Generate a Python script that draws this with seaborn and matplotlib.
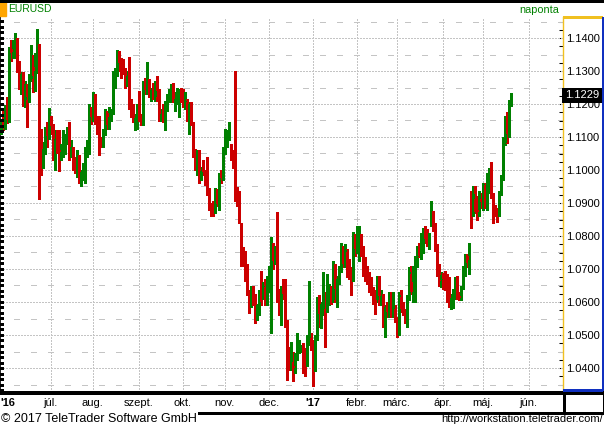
import numpy as np
import pandas as pd
import matplotlib
matplotlib.use("Agg")
import matplotlib.pyplot as plt
from matplotlib.lines import Line2D
from matplotlib.patches import Rectangle
from matplotlib.ticker import MultipleLocator
import seaborn as sns

# EURUSD daily candles (open, high, low, close), one list per month
may_2016 = [
    (1.1115, 1.1150, 1.1110, 1.1136), (1.1136, 1.1180, 1.1120, 1.1131),
]
jun_2016 = [
    (1.1131, 1.1198, 1.1123, 1.1187), (1.1187, 1.1222, 1.1142, 1.1152),
    (1.1152, 1.1374, 1.1145, 1.1366), (1.1366, 1.1395, 1.1330, 1.1355),
    (1.1355, 1.1395, 1.1340, 1.1357), (1.1357, 1.1416, 1.1340, 1.1397),
    (1.1397, 1.1400, 1.1298, 1.1314), (1.1314, 1.1330, 1.1245, 1.1251),
    (1.1251, 1.1298, 1.1230, 1.1290), (1.1290, 1.1298, 1.1193, 1.1212),
    (1.1212, 1.1270, 1.1190, 1.1260), (1.1260, 1.1262, 1.1131, 1.1220),
    (1.1220, 1.1290, 1.1205, 1.1275), (1.1275, 1.1380, 1.1270, 1.1313),
    (1.1313, 1.1347, 1.1235, 1.1285), (1.1285, 1.1355, 1.1240, 1.1299),
    (1.1299, 1.1428, 1.1295, 1.1381), (1.1381, 1.1381, 1.0912, 1.1116),
    (1.1116, 1.1125, 1.0986, 1.1019), (1.1019, 1.1086, 1.1007, 1.1063),
    (1.1063, 1.1130, 1.1050, 1.1124), (1.1124, 1.1145, 1.1070, 1.1103),
]
jul_2016 = [
    (1.1103, 1.1187, 1.1093, 1.1135), (1.1135, 1.1165, 1.1110, 1.1133),
    (1.1133, 1.1140, 1.1029, 1.1072), (1.1072, 1.1120, 1.1000, 1.1094),
    (1.1094, 1.1120, 1.1052, 1.1061), (1.1061, 1.1120, 1.0998, 1.1050),
    (1.1050, 1.1080, 1.1030, 1.1054), (1.1054, 1.1120, 1.1040, 1.1064),
    (1.1064, 1.1110, 1.1050, 1.1094), (1.1094, 1.1130, 1.1080, 1.1124),
    (1.1124, 1.1145, 1.1030, 1.1040), (1.1040, 1.1090, 1.1040, 1.1069),
    (1.1069, 1.1070, 1.1000, 1.1021), (1.1021, 1.1040, 1.0990, 1.1003),
    (1.1003, 1.1060, 1.0980, 1.1025), (1.1025, 1.1045, 1.0960, 1.0976),
    (1.0976, 1.1000, 1.0952, 1.0993), (1.0993, 1.1020, 1.0970, 1.0995),
    (1.0995, 1.1070, 1.0960, 1.1061), (1.1061, 1.1090, 1.1040, 1.1074),
    (1.1074, 1.1200, 1.1050, 1.1174),
]
aug_2016 = [
    (1.1174, 1.1190, 1.1140, 1.1162), (1.1162, 1.1235, 1.1150, 1.1224),
    (1.1224, 1.1230, 1.1140, 1.1150), (1.1150, 1.1165, 1.1110, 1.1128),
    (1.1128, 1.1165, 1.1045, 1.1087), (1.1087, 1.1100, 1.1070, 1.1085),
    (1.1085, 1.1125, 1.1070, 1.1116), (1.1116, 1.1185, 1.1105, 1.1174),
    (1.1174, 1.1180, 1.1125, 1.1135), (1.1135, 1.1190, 1.1125, 1.1160),
    (1.1160, 1.1185, 1.1150, 1.1181), (1.1181, 1.1300, 1.1170, 1.1286),
    (1.1286, 1.1310, 1.1250, 1.1290), (1.1290, 1.1365, 1.1285, 1.1352),
    (1.1352, 1.1360, 1.1300, 1.1324), (1.1324, 1.1340, 1.1280, 1.1318),
    (1.1318, 1.1335, 1.1290, 1.1307), (1.1307, 1.1310, 1.1250, 1.1265),
    (1.1265, 1.1300, 1.1255, 1.1285), (1.1285, 1.1341, 1.1185, 1.1199),
    (1.1199, 1.1215, 1.1160, 1.1192), (1.1192, 1.1200, 1.1145, 1.1148),
    (1.1148, 1.1170, 1.1120, 1.1157),
]
sep_2016 = [
    (1.1157, 1.1200, 1.1125, 1.1195), (1.1195, 1.1240, 1.1150, 1.1154),
    (1.1154, 1.1170, 1.1135, 1.1150), (1.1150, 1.1270, 1.1135, 1.1256),
    (1.1256, 1.1280, 1.1230, 1.1241), (1.1241, 1.1327, 1.1230, 1.1262),
    (1.1262, 1.1275, 1.1220, 1.1233), (1.1233, 1.1250, 1.1210, 1.1241),
    (1.1241, 1.1265, 1.1215, 1.1221), (1.1221, 1.1270, 1.1210, 1.1247),
    (1.1247, 1.1285, 1.1210, 1.1240), (1.1240, 1.1245, 1.1150, 1.1155),
    (1.1155, 1.1185, 1.1150, 1.1170), (1.1170, 1.1200, 1.1145, 1.1152),
    (1.1152, 1.1210, 1.1120, 1.1188), (1.1188, 1.1230, 1.1180, 1.1211),
    (1.1211, 1.1245, 1.1205, 1.1226), (1.1226, 1.1260, 1.1205, 1.1254),
    (1.1254, 1.1265, 1.1205, 1.1212), (1.1212, 1.1235, 1.1180, 1.1216),
    (1.1216, 1.1250, 1.1200, 1.1223), (1.1223, 1.1245, 1.1160, 1.1241),
]
oct_2016 = [
    (1.1241, 1.1250, 1.1205, 1.1210), (1.1210, 1.1245, 1.1190, 1.1205),
    (1.1205, 1.1235, 1.1185, 1.1206), (1.1206, 1.1215, 1.1150, 1.1155),
    (1.1155, 1.1205, 1.1110, 1.1200), (1.1200, 1.1205, 1.1135, 1.1140),
    (1.1140, 1.1145, 1.1040, 1.1055), (1.1055, 1.1065, 1.1000, 1.1005),
    (1.1005, 1.1060, 1.0985, 1.1055), (1.1055, 1.1060, 1.0960, 1.0970),
    (1.0970, 1.1010, 1.0970, 1.0998), (1.0998, 1.1030, 1.0985, 1.0995),
    (1.0995, 1.1000, 1.0955, 1.0973), (1.0973, 1.1040, 1.0925, 1.0929),
    (1.0929, 1.0945, 1.0880, 1.0889), (1.0889, 1.0900, 1.0860, 1.0883),
    (1.0883, 1.0905, 1.0860, 1.0880), (1.0880, 1.0945, 1.0870, 1.0915),
    (1.0915, 1.0942, 1.0890, 1.0897), (1.0897, 1.0990, 1.0880, 1.0985),
    (1.0985, 1.1000, 1.0960, 1.0975),
]
nov_2016 = [
    (1.0975, 1.1070, 1.0970, 1.1056), (1.1056, 1.1125, 1.1050, 1.1097),
    (1.1097, 1.1120, 1.1070, 1.1105), (1.1105, 1.1145, 1.1090, 1.1139),
    (1.1070, 1.1080, 1.1030, 1.1045), (1.1045, 1.1060, 1.1005, 1.1015),
    (1.1015, 1.1300, 1.0905, 1.0915), (1.0915, 1.0950, 1.0890, 1.0893),
    (1.0893, 1.0935, 1.0840, 1.0853), (1.0835, 1.0840, 1.0710, 1.0740),
    (1.0740, 1.0767, 1.0710, 1.0727), (1.0727, 1.0755, 1.0665, 1.0690),
    (1.0690, 1.0715, 1.0620, 1.0630), (1.0630, 1.0635, 1.0568, 1.0600),
    (1.0600, 1.0650, 1.0585, 1.0630), (1.0635, 1.0650, 1.0590, 1.0595),
    (1.0600, 1.0625, 1.0535, 1.0560), (1.0560, 1.0595, 1.0545, 1.0590),
    (1.0570, 1.0635, 1.0560, 1.0600), (1.0625, 1.0695, 1.0590, 1.0620),
    (1.0615, 1.0660, 1.0610, 1.0650), (1.0645, 1.0670, 1.0590, 1.0605),
]
dec_2016 = [
    (1.0600, 1.0680, 1.0590, 1.0665), (1.0650, 1.0710, 1.0630, 1.0690),
    (1.0650, 1.0796, 1.0505, 1.0765), (1.0765, 1.0780, 1.0700, 1.0725),
    (1.0725, 1.0770, 1.0715, 1.0765), (1.0765, 1.0874, 1.0600, 1.0630),
    (1.0630, 1.0640, 1.0560, 1.0570), (1.0540, 1.0650, 1.0530, 1.0635),
    (1.0635, 1.0670, 1.0610, 1.0625), (1.0625, 1.0670, 1.0525, 1.0540),
    (1.0540, 1.0545, 1.0365, 1.0425), (1.0425, 1.0465, 1.0395, 1.0418),
    (1.0418, 1.0480, 1.0395, 1.0450), (1.0415, 1.0450, 1.0360, 1.0400),
    (1.0405, 1.0445, 1.0385, 1.0440), (1.0440, 1.0505, 1.0425, 1.0460),
    (1.0460, 1.0485, 1.0445, 1.0465), (1.0458, 1.0470, 1.0448, 1.0465),
    (1.0465, 1.0475, 1.0385, 1.0445), (1.0445, 1.0460, 1.0375, 1.0410),
    (1.0410, 1.0500, 1.0405, 1.0490), (1.0490, 1.0665, 1.0470, 1.0530),
]
jan_2017 = [
    (1.0490, 1.0505, 1.0455, 1.0470), (1.0470, 1.0485, 1.0345, 1.0415),
    (1.0415, 1.0500, 1.0390, 1.0495), (1.0495, 1.0615, 1.0485, 1.0605),
    (1.0605, 1.0620, 1.0525, 1.0565), (1.0545, 1.0600, 1.0520, 1.0595),
    (1.0575, 1.0690, 1.0560, 1.0630), (1.0580, 1.0630, 1.0465, 1.0575),
    (1.0575, 1.0685, 1.0570, 1.0630), (1.0605, 1.0655, 1.0590, 1.0645),
    (1.0645, 1.0650, 1.0595, 1.0605), (1.0605, 1.0725, 1.0600, 1.0710),
    (1.0710, 1.0715, 1.0600, 1.0640), (1.0640, 1.0680, 1.0585, 1.0670),
    (1.0665, 1.0710, 1.0655, 1.0700), (1.0700, 1.0780, 1.0690, 1.0745),
    (1.0758, 1.0770, 1.0705, 1.0715), (1.0713, 1.0775, 1.0705, 1.0758),
    (1.0753, 1.0760, 1.0675, 1.0683), (1.0710, 1.0730, 1.0670, 1.0690),
    (1.0690, 1.0705, 1.0620, 1.0680), (1.0680, 1.0812, 1.0665, 1.0800),
]
feb_2017 = [
    (1.0800, 1.0805, 1.0740, 1.0760), (1.0760, 1.0830, 1.0750, 1.0810),
    (1.0768, 1.0830, 1.0725, 1.0783), (1.0800, 1.0805, 1.0740, 1.0753),
    (1.0763, 1.0770, 1.0680, 1.0723), (1.0728, 1.0735, 1.0663, 1.0693),
    (1.0693, 1.0710, 1.0655, 1.0673), (1.0678, 1.0690, 1.0630, 1.0643),
    (1.0668, 1.0675, 1.0620, 1.0643), (1.0633, 1.0645, 1.0595, 1.0613),
    (1.0615, 1.0635, 1.0565, 1.0590), (1.0605, 1.0680, 1.0600, 1.0678),
    (1.0678, 1.0680, 1.0590, 1.0618), (1.0610, 1.0635, 1.0590, 1.0618),
    (1.0618, 1.0625, 1.0525, 1.0553), (1.0540, 1.0590, 1.0495, 1.0585),
    (1.0585, 1.0600, 1.0555, 1.0570), (1.0570, 1.0630, 1.0555, 1.0598),
    (1.0598, 1.0630, 1.0555, 1.0560), (1.0560, 1.0630, 1.0555, 1.0598),
]
mar_2017 = [
    (1.0578, 1.0590, 1.0540, 1.0548), (1.0548, 1.0555, 1.0495, 1.0513),
    (1.0513, 1.0630, 1.0500, 1.0620), (1.0615, 1.0635, 1.0570, 1.0580),
    (1.0580, 1.0600, 1.0560, 1.0568), (1.0568, 1.0580, 1.0535, 1.0548),
    (1.0548, 1.0620, 1.0525, 1.0615), (1.0615, 1.0705, 1.0605, 1.0690),
    (1.0685, 1.0708, 1.0625, 1.0630), (1.0660, 1.0710, 1.0600, 1.0705),
    (1.0610, 1.0740, 1.0600, 1.0735), (1.0735, 1.0770, 1.0705, 1.0765),
    (1.0765, 1.0780, 1.0735, 1.0740), (1.0740, 1.0810, 1.0730, 1.0795),
    (1.0765, 1.0825, 1.0750, 1.0810), (1.0810, 1.0830, 1.0780, 1.0790),
    (1.0800, 1.0820, 1.0770, 1.0785), (1.0785, 1.0810, 1.0760, 1.0800),
    (1.0840, 1.0906, 1.0830, 1.0865), (1.0865, 1.0875, 1.0815, 1.0835),
    (1.0828, 1.0840, 1.0755, 1.0768), (1.0768, 1.0775, 1.0680, 1.0690),
    (1.0690, 1.0715, 1.0650, 1.0665),
]
apr_2017 = [
    (1.0668, 1.0690, 1.0645, 1.0683), (1.0683, 1.0688, 1.0640, 1.0670),
    (1.0673, 1.0695, 1.0635, 1.0643), (1.0665, 1.0685, 1.0600, 1.0610),
    (1.0660, 1.0675, 1.0585, 1.0595), (1.0593, 1.0625, 1.0580, 1.0613),
    (1.0595, 1.0640, 1.0583, 1.0633), (1.0620, 1.0675, 1.0610, 1.0668),
    (1.0668, 1.0680, 1.0610, 1.0618), (1.0623, 1.0630, 1.0605, 1.0613),
    (1.0618, 1.0650, 1.0605, 1.0648), (1.0648, 1.0710, 1.0640, 1.0698),
    (1.0690, 1.0745, 1.0680, 1.0735), (1.0738, 1.0745, 1.0705, 1.0718),
    (1.0713, 1.0780, 1.0685, 1.0728), (1.0913, 1.0935, 1.0823, 1.0868),
    (1.0868, 1.0953, 1.0860, 1.0928), (1.0913, 1.0953, 1.0870, 1.0873),
    (1.0913, 1.0920, 1.0850, 1.0873), (1.0878, 1.0935, 1.0860, 1.0933),
]
may_2017 = [
    (1.0913, 1.0930, 1.0885, 1.0903), (1.0893, 1.0960, 1.0880, 1.0958),
    (1.0955, 1.0960, 1.0885, 1.0893), (1.0893, 1.0990, 1.0880, 1.0985),
    (1.0985, 1.1005, 1.0930, 1.0998), (1.1020, 1.1023, 1.0915, 1.0925),
    (1.0925, 1.0930, 1.0840, 1.0878), (1.0878, 1.0895, 1.0860, 1.0870),
    (1.0870, 1.0885, 1.0843, 1.0865), (1.0865, 1.0935, 1.0860, 1.0933),
    (1.0933, 1.0985, 1.0925, 1.0978), (1.0978, 1.1100, 1.0970, 1.1083),
    (1.1083, 1.1165, 1.1075, 1.1158), (1.1165, 1.1175, 1.1083, 1.1108),
    (1.1108, 1.1212, 1.1100, 1.1205), (1.1205, 1.1233, 1.1195, 1.1229),
]

first_day, last_day = '2016-05-30', '2017-05-22'
month_labels = ["'16", 'júl.', 'aug.', 'szept.', 'okt.', 'nov.', 'dec.',
                "'17", 'febr.', 'márc.', 'ápr.', 'máj.', 'jún.']
price_levels = [1.04, 1.05, 1.06, 1.07, 1.08, 1.09, 1.10, 1.11, 1.12, 1.13, 1.14]
last_price = 1.1229

sns.set_theme(style="white")
plt.rcParams['font.family'] = ['Liberation Sans', 'DejaVu Sans']

rows = (may_2016 + jun_2016 + jul_2016 + aug_2016 + sep_2016 + oct_2016 + nov_2016
        + dec_2016 + jan_2017 + feb_2017 + mar_2017 + apr_2017 + may_2017)
df = pd.DataFrame(rows, columns=['open', 'high', 'low', 'close'])
df['date'] = pd.bdate_range(first_day, last_day)
df['idx'] = np.arange(len(df))
df['up'] = df['close'] >= df['open']

W, H = 604, 429
fig = plt.figure(figsize=(W / 100, H / 100), dpi=100)
fig.patch.set_facecolor('white')


def fx(px):
    return px / W


def fy(py):
    return 1 - py / H


# plot area: x 0..563 px, y 17..392 px; 1.1400 at y=38, 33 px per 0.01
ax = fig.add_axes([0, fy(392), fx(563), (392 - 17) / H])
ax.set_facecolor('white')
ymin = 1.14 - (392 - 38) / 3300
ymax = 1.14 + (38 - 17) / 3300
ax.set_ylim(ymin, ymax)
ax.set_xlim(-0.5, 281)

grid_col = '#C4C4C4'
for lvl in price_levels:
    ax.axhline(lvl, color=grid_col, lw=0.75, ls=(0, (1, 1)), antialiased=False, zorder=1)
    ax.axhline(lvl - 0.005, color=grid_col, lw=0.75, ls=(3, (5, 11)), antialiased=False, zorder=1)
ax.axhline(1.145, color=grid_col, lw=0.75, ls=(3, (5, 11)), antialiased=False, zorder=1)

# month boundaries
cal = pd.bdate_range(first_day, '2017-06-02')
starts = [i for i in range(1, len(cal)) if cal[i].month != cal[i - 1].month]
grid_x = [s + 0.85 for s in starts[1:]]
for gx in grid_x:
    ax.axvline(gx, color=grid_col, lw=0.75, ls=(0, (1, 1)), antialiased=False, zorder=1)

# candles
green, red = '#008000', '#CC0000'
colors = np.where(df['up'], green, red)
ax.vlines(df['idx'], df['low'], df['high'], colors=colors, lw=0.75,
          antialiased=False, zorder=3)
body = (df['close'] - df['open']).abs().clip(lower=0.0004)
ax.bar(df['idx'], body, bottom=df[['open', 'close']].min(axis=1), width=1.5,
       color=colors, linewidth=0, antialiased=False, zorder=4)

# left ruler ticks
step = 0.01 / 6
left_ticks = np.arange(1.14 - 64 * step, ymax, step)
ax.hlines(left_ticks, -0.5, 1.0, colors='black', lw=0.75, antialiased=False, zorder=5)

# axes styling
for s in ['top', 'bottom']:
    ax.spines[s].set_visible(False)
ax.spines['left'].set_color('black')
ax.spines['left'].set_linewidth(1.2)
ax.spines['right'].set_color('#F0C020')
ax.spines['right'].set_linewidth(1.0)

ax.yaxis.tick_right()
ax.set_yticks(price_levels)
ax.set_yticklabels([f'{v:.4f}' for v in price_levels])
ax.yaxis.set_minor_locator(MultipleLocator(0.0025))
ax.tick_params(axis='y', which='both', direction='in', length=3, width=0.75,
               color='black', right=True, left=False, pad=2.5, labelsize=8,
               labelcolor='black')

ax.set_xticks([-0.5] + grid_x)
ax.set_xticklabels(month_labels)
ax.tick_params(axis='x', length=0, pad=4.2, labelsize=8, labelcolor='black')
for lab in ax.get_xticklabels():
    if lab.get_text().startswith("'"):
        lab.set_fontweight('bold')
ax.get_xticklabels()[0].set_horizontalalignment('left')
ax.grid(False)

# current price tag
ax.text(1.004, last_price, f'{last_price:.4f}', transform=ax.get_yaxis_transform(),
        color='white', fontsize=8, ha='left', va='center_baseline', zorder=10,
        bbox=dict(boxstyle='square,pad=0.25', fc='black', ec='none'))

# frame lines drawn in figure pixels
def fline(x0, y0, x1, y1, color='black', lw=0.75):
    fig.add_artist(Line2D([fx(x0), fx(x1)], [fy(y0), fy(y1)], color=color, lw=lw,
                          antialiased=False, transform=fig.transFigure))


fline(0, 0.5, 604, 0.5)
fline(0, 392.5, 604, 392.5, lw=1.5)
fline(563, 17, 602, 17, color='#F0C020')
fline(602.5, 17, 602.5, 390, color='#1030C0')
fline(563, 390, 602, 390, color='#1030C0')
fline(563.5, 392, 563.5, 412)
fline(603.5, 392, 603.5, 412)
fline(198, 412.5, 604, 412.5)

fig.add_artist(Rectangle((0, fy(16)), fx(6), 16 / H, color='#FFA500',
                         transform=fig.transFigure))
fig.text(fx(8), fy(9), 'EURUSD', color=green, fontsize=7.5, ha='left', va='center')
fig.text(fx(559), fy(10), 'naponta', color=green, fontsize=7.8, ha='right', va='center')
fig.text(fx(1), fy(419), '© 2017 TeleTrader Software GmbH', fontsize=9,
         ha='left', va='center', color='black')
fig.text(fx(603), fy(419), 'http://workstation.teletrader.com/', fontsize=8,
         ha='right', va='center', color='black')

fig.savefig('out.png', dpi=100)
plt.close(fig)
